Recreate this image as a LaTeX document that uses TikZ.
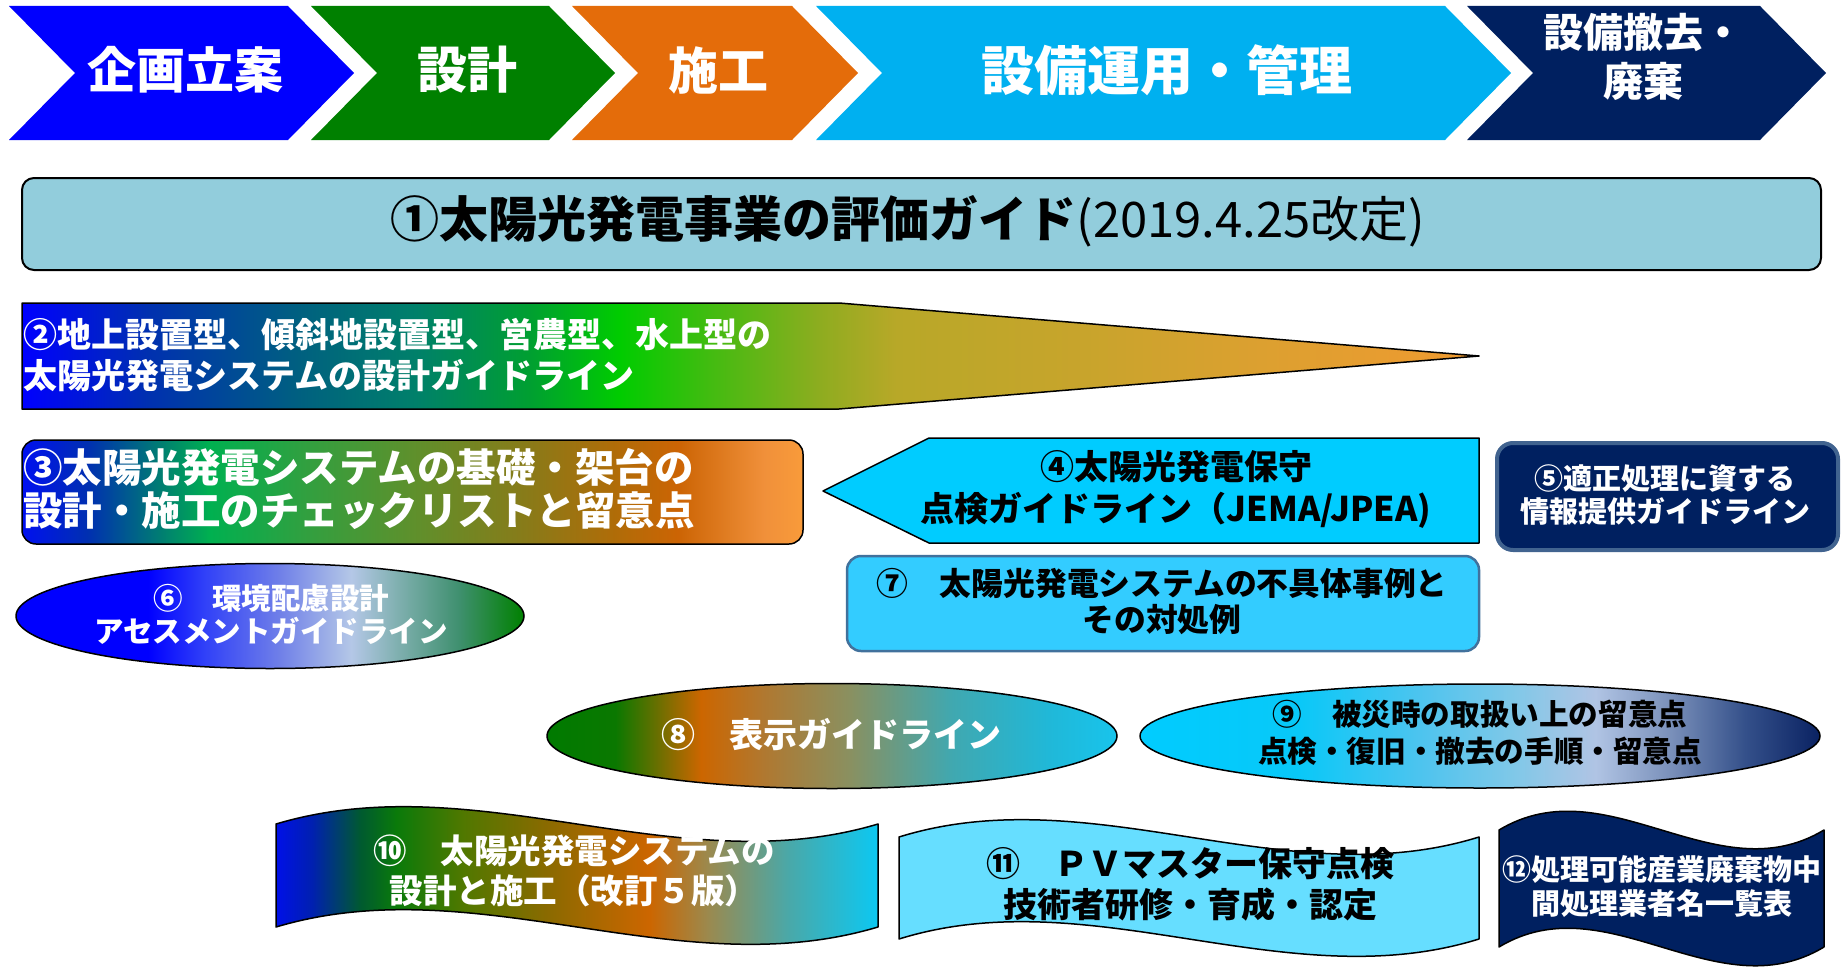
\documentclass[tikz,border=0pt]{standalone}
\usepackage{fontspec}
\setmainfont{Noto Sans CJK JP}
\newcommand\jsz[2]{\fontsize{#1}{#2}\selectfont\bfseries}
% solid colours
\definecolor{cBlue}{HTML}{0000FF}
\definecolor{cGreen}{HTML}{008000}
\definecolor{cOrange}{HTML}{E46C0A}
\definecolor{cSky}{HTML}{00B0F0}
\definecolor{cNavy}{HTML}{002060}
\definecolor{cOneFill}{HTML}{92CDDC}
\definecolor{cFour}{HTML}{00CCFF}
\definecolor{cSeven}{HTML}{33CCFF}
\definecolor{cSevenLine}{HTML}{41719C}
\definecolor{cFiveLine}{HTML}{41638F}
\definecolor{cEleven}{HTML}{66DEFF}
% gradient stops for (2)
\definecolor{bA}{HTML}{0000FF}\definecolor{bB}{HTML}{0030B0}\definecolor{bC}{HTML}{006080}
\definecolor{bD}{HTML}{00806A}\definecolor{bE}{HTML}{00A030}\definecolor{bF}{HTML}{00CC00}
\definecolor{bG}{HTML}{40BC10}\definecolor{bH}{HTML}{90AC20}\definecolor{bI}{HTML}{B8A828}
\definecolor{bJ}{HTML}{C8A42C}\definecolor{bK}{HTML}{DCA030}\definecolor{bL}{HTML}{F09A30}
\pgfdeclarehorizontalshading{shTwo}{100bp}{color(0bp)=(bA); color(25bp)=(bA); color(29.3bp)=(bB); color(34.5bp)=(bC); color(38.5bp)=(bD); color(42.5bp)=(bE); color(45.5bp)=(bF); color(48.5bp)=(bG); color(52.5bp)=(bH); color(55bp)=(bI); color(61.5bp)=(bJ); color(67.5bp)=(bK); color(75bp)=(bL); color(100bp)=(bL)}
% (3)
\definecolor{dA}{HTML}{0010F0}\definecolor{dB}{HTML}{0030B0}\definecolor{dC}{HTML}{008070}
\definecolor{dD}{HTML}{00B050}\definecolor{dE}{HTML}{30A040}\definecolor{dF}{HTML}{5E902C}
\definecolor{dG}{HTML}{8A7A18}\definecolor{dH}{HTML}{B06C08}\definecolor{dI}{HTML}{CC6404}
\definecolor{dJ}{HTML}{F0903A}\definecolor{dK}{HTML}{F99B3A}
\pgfdeclarehorizontalshading{shThree}{100bp}{color(0bp)=(dA); color(25bp)=(dA); color(29.25bp)=(dB); color(34bp)=(dC); color(37bp)=(dD); color(43bp)=(dE); color(50bp)=(dF); color(57.5bp)=(dG); color(63bp)=(dH); color(67bp)=(dI); color(72.5bp)=(dJ); color(75bp)=(dK); color(100bp)=(dK)}
% (6)
\definecolor{eA}{HTML}{0000FF}\definecolor{eB}{HTML}{3040F8}\definecolor{eC}{HTML}{7080E8}
\definecolor{eD}{HTML}{B4C7E7}\definecolor{eE}{HTML}{80B0B0}\definecolor{eF}{HTML}{409070}
\definecolor{eG}{HTML}{008000}
\pgfdeclarehorizontalshading{shSix}{100bp}{color(0bp)=(eA); color(25bp)=(eA); color(38bp)=(eA); color(43.5bp)=(eB); color(51bp)=(eC); color(58bp)=(eD); color(62.5bp)=(eE); color(68.5bp)=(eF); color(75bp)=(eG); color(100bp)=(eG)}
% (8)
\definecolor{fA}{HTML}{007A00}\definecolor{fB}{HTML}{0A7800}\definecolor{fC}{HTML}{CC6600}
\definecolor{fD}{HTML}{B07830}\definecolor{fE}{HTML}{8A9060}\definecolor{fF}{HTML}{40A8B0}
\definecolor{fG}{HTML}{20B8D8}\definecolor{fH}{HTML}{18C4EC}
\pgfdeclarehorizontalshading{shEight}{100bp}{color(0bp)=(fA); color(25bp)=(fA); color(31bp)=(fB); color(38.5bp)=(fC); color(44bp)=(fD); color(51.5bp)=(fE); color(60.5bp)=(fF); color(69bp)=(fG); color(75bp)=(fH); color(100bp)=(fH)}
% (9)
\definecolor{gA}{HTML}{00CCFF}\definecolor{gB}{HTML}{08C8F8}\definecolor{gC}{HTML}{50C4EE}
\definecolor{gD}{HTML}{80C8E8}\definecolor{gE}{HTML}{B0C4E4}\definecolor{gF}{HTML}{7A90BA}
\definecolor{gG}{HTML}{34508A}\definecolor{gH}{HTML}{0A2262}
\pgfdeclarehorizontalshading{shNine}{100bp}{color(0bp)=(gA); color(25bp)=(gA); color(36.5bp)=(gB); color(46bp)=(gC); color(52.5bp)=(gD); color(58.5bp)=(gE); color(64bp)=(gF); color(69.5bp)=(gG); color(75bp)=(gH); color(100bp)=(gH)}
% (10)
\definecolor{hA}{HTML}{0010E8}\definecolor{hB}{HTML}{0020B0}\definecolor{hC}{HTML}{005A30}
\definecolor{hD}{HTML}{0A7A0A}\definecolor{hE}{HTML}{507800}\definecolor{hF}{HTML}{8A6A00}
\definecolor{hG}{HTML}{CC6600}\definecolor{hH}{HTML}{9A8A50}\definecolor{hI}{HTML}{4AA8A8}
\definecolor{hJ}{HTML}{0CC8F2}
\pgfdeclarehorizontalshading{shTen}{100bp}{color(0bp)=(hA); color(25bp)=(hA); color(28bp)=(hB); color(32bp)=(hC); color(35bp)=(hD); color(40.5bp)=(hE); color(47.5bp)=(hF); color(56bp)=(hG); color(61bp)=(hH); color(67.5bp)=(hI); color(75bp)=(hJ); color(100bp)=(hJ)}

\begin{document}
\begin{tikzpicture}[x=1pt,y=-1pt,
  txt/.style={inner sep=0pt, align=center},
  wtxt/.style={txt, text=white},
  btxt/.style={txt, text=black},
  outl/.style={draw=black, line width=1.5pt},
  line join=round]
\useasboundingbox (0,0) rectangle (1841,966);

% ---- process chevrons
\fill[cBlue]   (9,6)    -- (288,6)  -- (354,73)  -- (288,140)  -- (9,140)    -- (75,73)   -- cycle;
\fill[cGreen]  (311,6)  -- (549,6)  -- (615,73)  -- (549,140)  -- (311,140)  -- (377,73)  -- cycle;
\fill[cOrange] (572,6)  -- (792,6)  -- (858,73)  -- (792,140)  -- (572,140)  -- (638,73)  -- cycle;
\fill[cSky]    (816,6)  -- (1445,6) -- (1511,73) -- (1445,140) -- (816,140)  -- (882,73)  -- cycle;
\fill[cNavy]   (1467,6) -- (1760,6) -- (1826,73) -- (1760,140) -- (1467,140) -- (1533,73) -- cycle;
\node[wtxt, font=\jsz{49}{58}] (c1) at (185,70) {企画立案};
\node[wtxt, font=\jsz{50}{58}] (c2) at (467,70) {設計};
\node[wtxt, font=\jsz{50}{58}] (c3) at (718,70) {施工};
\node[wtxt, font=\jsz{53}{60}] (c4) at (1167,70) {設備運用・管理};
\node[wtxt, font=\jsz{40}{49}] (c5) at (1643,57) {設備撤去・\\廃棄};

% ---- (1)
\draw[fill=cOneFill, draw=black, line width=2pt, rounded corners=12pt] (22,178) rectangle (1821,270);
\node[btxt, font=\jsz{49}{58}] (t1) at (908,221) {①太陽光発電事業の評価ガイド{\mdseries(2019.4.25改定)}};

% ---- (2)
\path[outl, shading=shTwo] (22,303) -- (839,303) -- (1479,356) -- (839,409) -- (22,409) -- cycle;
\node[wtxt, align=left, anchor=west, font=\jsz{34}{41}] (t2) at (23,355) {②地上設置型、傾斜地設置型、営農型、水上型の\\太陽光発電システムの設計ガイドライン};

% ---- (3)
\path[outl, shading=shThree, rounded corners=14pt] (22,440) rectangle (803,544);
\node[wtxt, align=left, anchor=west, font=\jsz{39.5}{43}] (t3) at (23,489) {③太陽光発電システムの基礎・架台の\\設計・施工のチェックリストと留意点};

% ---- (4)
\draw[fill=cFour, draw=black, line width=1.5pt] (823,491) -- (929,438) -- (1479,438) -- (1479,543) -- (929,543) -- cycle;
\node[btxt, font=\jsz{34}{42}] (t4) at (1176,489) {④太陽光発電保守\\点検ガイドライン（JEMA/JPEA)};

% ---- (5)
\draw[fill=cNavy, draw=cFiveLine, line width=4pt, rounded corners=16pt] (1497,443) rectangle (1838,550);
\node[wtxt, font=\jsz{29}{33}] (t5) at (1665,495) {⑤適正処理に資する\\情報提供ガイドライン};

% ---- (7)
\draw[fill=cSeven, draw=cSevenLine, line width=2.5pt, rounded corners=14pt] (847,556) rectangle (1479,651);
\node[btxt, font=\jsz{31.8}{36}] (t7) at (1162,602) {⑦　太陽光発電システムの不具体事例と\\その対処例};

% ---- (6)
\path[outl, shading=shSix] (270,616) ellipse [x radius=254pt, y radius=52.5pt];
\node[wtxt, font=\jsz{29.5}{33}] (t6) at (271,614) {⑥　環境配慮設計\\アセスメントガイドライン};

% ---- (8)
\path[outl, shading=shEight] (832,736) ellipse [x radius=285pt, y radius=52.5pt];
\node[wtxt, font=\jsz{34}{41}] (t8) at (831,735) {⑧　表示ガイドライン};

% ---- (9)
\path[outl, shading=shNine] (1480,736) ellipse [x radius=340pt, y radius=52pt];
\node[btxt, font=\jsz{29.6}{37}] (t9) at (1480,733) {⑨　被災時の取扱い上の留意点\\点検・復旧・撤去の手順・留意点};

% ---- (10) wave
\path[outl, shading=shTen] (276,824) .. controls (477,764) and (677,884) .. (878,824) -- (878,927) .. controls (677,987) and (477,867) .. (276,927) -- cycle;
\node[wtxt, font=\jsz{33.5}{40}] (t10) at (574,871) {⑩　太陽光発電システムの\\設計と施工（改訂５版）};

% ---- (11) wave
\draw[fill=cEleven, outl] (899,837) .. controls (1092,777) and (1286,897) .. (1479,837) -- (1479,939) .. controls (1286,999) and (1092,879) .. (899,939) -- cycle;
\node[btxt, font=\jsz{34}{41}] (t11) at (1190,884) {⑪　ＰＶマスター保守点検\\技術者研修・育成・認定};

% ---- (12) wave
\draw[fill=cNavy, outl] (1499,830) .. controls (1607,765) and (1716,895) .. (1824,830) -- (1824,947) .. controls (1716,1012) and (1607,882) .. (1499,947) -- cycle;
\node[wtxt, font=\jsz{29}{34}] (t12) at (1662,886) {⑫処理可能産業廃棄物中\\間処理業者名一覧表};
\end{tikzpicture}
\end{document}
